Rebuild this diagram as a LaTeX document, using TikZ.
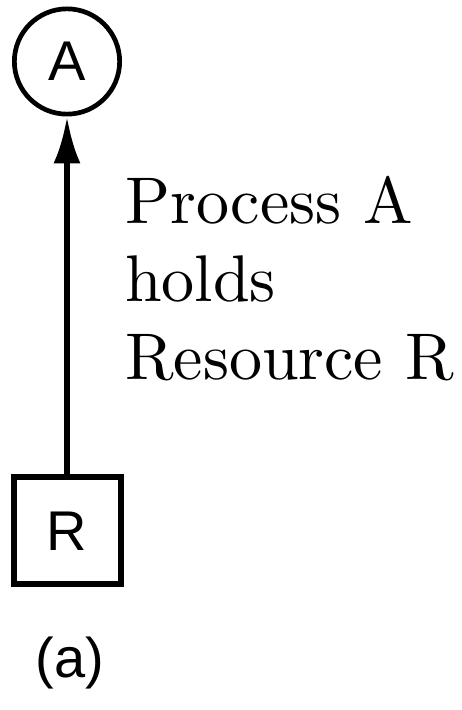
\documentclass[tikz,border=0pt]{standalone}
\usepackage{fontspec}
\newfontfamily\labelsans{Liberation Sans}
\newfontfamily\noteserif{lmroman10-regular.otf}
\usetikzlibrary{arrows.meta}
\begin{document}
\begin{tikzpicture}[x=1pt,y=1pt,
  process/.style={circle,draw,line width=4.7pt,minimum size=105.3pt,inner sep=0pt,
    font=\labelsans\fontsize{56}{60}\selectfont},
  resource/.style={rectangle,draw,line width=6pt,minimum size=107pt,inner sep=0pt,
    font=\labelsans\fontsize{56}{60}\selectfont},
  holds/.style={line width=6pt,-{Latex[length=47pt,width=27pt]}},
  note/.style={align=left,inner sep=0pt,font=\noteserif\fontsize{66}{78}\selectfont}]
  \useasboundingbox (0,0) rectangle (462,710);
  \node[process] (A) at (67,648.5) {A};
  \node[resource] (R) at (67,179) {R};
  \draw[holds] (R) -- (A);
  % the base anchor of this three-line node sits on the last line
  \node[note,anchor=base west] (txt) at (125,330) {Process A\\holds\\Resource R};
  \node[inner sep=0pt,anchor=base,font=\labelsans\fontsize{56}{60}\selectfont] (cap) at (70,32) {(a)};
\end{tikzpicture}
\end{document}
